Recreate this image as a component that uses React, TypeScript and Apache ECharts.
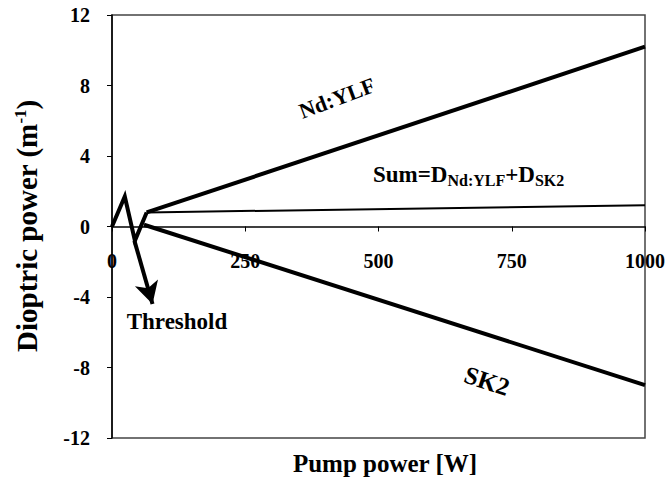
import React, { useEffect, useRef } from "react";
import * as echarts from "echarts";

const xTicks = [0, 250, 500, 750, 1000];
const yTicks = [-12, -8, -4, 0, 4, 8, 12];

const ndX = [65, 1000];
const ndY = [0.8, 10.2];
const sk2X = [60, 1000];
const sk2Y = [0.1, -9.0];
const sumX = [65, 1000];
const sumY = [0.8, 1.2];
const transientX = [0, 24, 43, 65];
const transientY = [0, 1.7, -0.8, 0.8];
const arrowFrom = [42, -0.8];
const arrowTo = [76, -4.4];

const pairs = (xs: number[], ys: number[]) => xs.map((x, i) => [x, ys[i]]);

const FONT = "'Liberation Serif', 'Times New Roman', serif";

export default function App() {
  const ref = useRef<HTMLDivElement>(null);
  useEffect(() => {
    document.body.style.margin = "0";
    const chart = echarts.init(ref.current!, undefined, { renderer: "svg" });
    const lineBase = {
      type: "line",
      symbol: "none",
      silent: true,
      z: 3,
    };
    chart.setOption({
      animation: false,
      backgroundColor: "#ffffff",
      grid: {
        left: 112,
        right: 25,
        top: 15,
        bottom: 40,
        show: true,
        borderColor: "#444",
        borderWidth: 1.5,
      },
      xAxis: {
        type: "value",
        min: xTicks[0],
        max: xTicks[xTicks.length - 1],
        interval: 250,
        position: "bottom",
        offset: -211.5,
        axisLine: { onZero: false, lineStyle: { color: "#000", width: 1.5 } },
        axisTick: { show: true, length: 5, lineStyle: { color: "#000" } },
        axisLabel: {
          margin: 24,
          color: "#000",
          fontFamily: FONT,
          fontWeight: "bold",
          fontSize: 20,
          showMaxLabel: true,
          showMinLabel: true,
          formatter: (v: number) => String(v),
        },
        splitLine: { show: false },
      },
      yAxis: {
        type: "value",
        min: yTicks[0],
        max: yTicks[yTicks.length - 1],
        interval: 4,
        axisLine: { show: true, onZero: false, lineStyle: { color: "#000", width: 1.5 } },
        axisTick: { show: true, length: 5, lineStyle: { color: "#000" } },
        axisLabel: {
          margin: 22,
          color: "#000",
          fontFamily: FONT,
          fontWeight: "bold",
          fontSize: 20,
          formatter: (v: number) => String(v),
        },
        splitLine: { show: false },
      },
      series: [
        {
          ...lineBase,
          name: "Nd:YLF",
          data: pairs(ndX, ndY),
          lineStyle: { color: "#000", width: 4 },
        },
        {
          ...lineBase,
          name: "SK2",
          data: pairs(sk2X, sk2Y),
          lineStyle: { color: "#000", width: 4 },
        },
        {
          ...lineBase,
          name: "Sum",
          data: pairs(sumX, sumY),
          lineStyle: { color: "#000", width: 2 },
        },
        {
          ...lineBase,
          name: "Transient",
          data: pairs(transientX, transientY),
          lineStyle: { color: "#000", width: 4, join: "miter" },
          markLine: {
            silent: true,
            symbol: ["none", "arrow"],
            symbolSize: [18, 22],
            label: { show: false },
            lineStyle: { color: "#000", width: 4, type: "solid" },
            data: [[{ coord: arrowFrom }, { coord: arrowTo }]],
          },
        },
      ],
      graphic: [
        {
          type: "text",
          x: 337,
          y: 98,
          rotation: 0.36,
          style: {
            text: "Nd:YLF",
            fontFamily: FONT,
            fontWeight: "bold",
            fontSize: 22,
            fill: "#000",
            align: "center",
            verticalAlign: "middle",
          },
        },
        {
          type: "text",
          x: 373,
          y: 174,
          style: {
            text: "Sum=D{s|Nd:YLF}+D{s|SK2}",
            fontFamily: FONT,
            fontWeight: "bold",
            fontSize: 23,
            fill: "#000",
            align: "left",
            verticalAlign: "middle",
            rich: {
              s: {
                fontFamily: FONT,
                fontWeight: "bold",
                fontSize: 16,
                fill: "#000",
                padding: [13, 0, 0, 0],
              },
            },
          },
        },
        {
          type: "text",
          x: 487,
          y: 381,
          rotation: -0.32,
          style: {
            text: "SK2",
            fontFamily: FONT,
            fontWeight: "bold",
            fontSize: 25,
            fill: "#000",
            align: "center",
            verticalAlign: "middle",
          },
        },
        {
          type: "text",
          x: 177,
          y: 321,
          style: {
            text: "Threshold",
            fontFamily: FONT,
            fontWeight: "bold",
            fontSize: 23,
            fill: "#000",
            align: "center",
            verticalAlign: "middle",
          },
        },
        {
          type: "text",
          x: 385,
          y: 463,
          style: {
            text: "Pump power [W]",
            fontFamily: FONT,
            fontWeight: "bold",
            fontSize: 25,
            fill: "#000",
            align: "center",
            verticalAlign: "middle",
          },
        },
        {
          type: "text",
          x: 27,
          y: 226,
          rotation: Math.PI / 2,
          style: {
            text: "Dioptric power (m{sup|-1})",
            fontFamily: FONT,
            fontWeight: "bold",
            fontSize: 29,
            fill: "#000",
            align: "center",
            verticalAlign: "middle",
            rich: {
              sup: {
                fontFamily: FONT,
                fontWeight: "bold",
                fontSize: 17,
                fill: "#000",
                padding: [0, 0, 13, 0],
              },
            },
          },
        },
      ],
    });
    return () => chart.dispose();
  }, []);
  return <div ref={ref} style={{ width: 670, height: 478 }} />;
}
